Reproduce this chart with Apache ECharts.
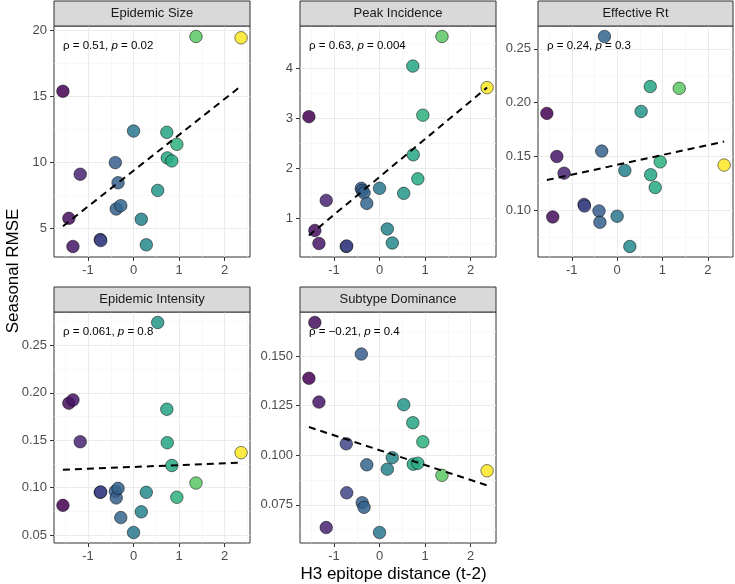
<!DOCTYPE html>
<html><head><meta charset="utf-8">
<script src="https://cdn.jsdelivr.net/npm/echarts@6/dist/echarts.min.js"></script>
<style>html,body{margin:0;padding:0;background:#fff}#c{width:735px;height:584px}</style>
</head><body><div id="c"></div>
<script>
// ---- data ----
const xDist = [-1.55,-1.42,-1.33,-1.17,-0.73,-0.72,-0.40,-0.38,-0.34,-0.28,0.00,0.17,0.28,0.53,0.73,0.74,0.84,0.95,1.37,2.36];
const epidemicSize = [15.39,5.74,3.60,9.09,4.13,4.05,9.97,6.45,8.44,6.70,12.37,5.67,3.73,7.86,12.27,10.33,10.10,11.36,19.55,19.45];
const peakIncidence = [3.03,0.76,0.50,1.36,0.44,0.45,1.60,1.56,1.51,1.30,1.60,0.79,0.51,1.50,4.04,2.27,1.79,3.06,4.63,3.61];
const effectiveRt = [0.190,0.0938,0.150,0.1345,0.1055,0.104,0.0994,0.0889,0.155,0.2614,0.0945,0.137,0.0664,0.1918,0.2149,0.133,0.1212,0.145,0.2133,0.142];
const epidemicIntensity = [0.0814,0.189,0.1924,0.1484,0.0951,0.0955,0.0962,0.0892,0.0993,0.0685,0.0528,0.0746,0.0951,0.274,0.1826,0.1474,0.1234,0.0899,0.1049,0.1369];
const subtypeDominance = [0.1388,0.1669,0.1268,0.0636,0.1058,0.0811,0.151,0.0761,0.0738,0.0952,0.0611,0.093,0.0988,0.1255,0.1164,0.0955,0.096,0.1068,0.0899,0.0922];

const panelTitles = ['Epidemic Size','Peak Incidence','Effective Rt','Epidemic Intensity','Subtype Dominance'];
const rhoLabels = ['0.51','0.63','0.24','0.061','\u22120.21'];
const pLabels = ['0.02','0.004','0.3','0.8','0.4'];
const xTicks = [-1,0,1,2];
const xMinor = [-1.5,-0.5,0.5,1.5,2.5];
const yTicks = [[5,10,15,20],[1,2,3,4],[0.10,0.15,0.20,0.25],[0.05,0.10,0.15,0.20,0.25],[0.075,0.100,0.125,0.150]];
const yMinor = [[7.5,12.5,17.5],[0.5,1.5,2.5,3.5,4.5],[0.075,0.125,0.175,0.225],[0.075,0.125,0.175,0.225,0.275],[0.0625,0.0875,0.1125,0.1375,0.1625]];
const yDecimals = [0,0,2,2,3];
const xTitle = 'H3 epitope distance (t-2)';
const yTitle = 'Seasonal RMSE';
const seriesY = [epidemicSize, peakIncidence, effectiveRt, epidemicIntensity, subtypeDominance];

// ---- layout ----
const FONT = 'Liberation Sans, Arial, Helvetica, sans-serif';
const boxes = [
  {left:54, top:26, width:196, height:231},
  {left:300, top:26, width:196, height:231},
  {left:538, top:26, width:195, height:231},
  {left:54, top:312, width:196, height:231},
  {left:300, top:312, width:196, height:231}
];
const stripH = 25;
const viridis = ['#440154','#472D7B','#3B528B','#2C728E','#21908C','#27AD81','#5DC863','#AADC32','#FDE725'];

function expand(arr){
  const mn = Math.min(...arr), mx = Math.max(...arr), r = mx - mn;
  return [mn - 0.05*r, mx + 0.05*r];
}
function lm(xs, ys){
  const n = xs.length;
  const mx = xs.reduce((a,b)=>a+b,0)/n, my = ys.reduce((a,b)=>a+b,0)/n;
  let sxy=0, sxx=0;
  for(let i=0;i<n;i++){ sxy += (xs[i]-mx)*(ys[i]-my); sxx += (xs[i]-mx)**2; }
  const b = sxy/sxx; return [my - b*mx, b];
}
const [xMin, xMax] = expand(xDist);
const xLo = Math.min(...xDist), xHi = Math.max(...xDist);

const grid=[], xAxis=[], yAxis=[], series=[], graphic=[];
boxes.forEach((b,i)=>{
  grid.push({left:b.left, top:b.top, width:b.width, height:b.height, show:true,
    borderColor:'#333333', borderWidth:1, backgroundColor:'#fff', containLabel:false, outerBoundsMode:'none'});
  const [yMin, yMax] = expand(seriesY[i]);
  // major axes
  xAxis.push({type:'value', gridIndex:i, min:xMin, max:xMax, position:'bottom',
    axisLine:{show:false, onZero:false},
    axisTick:{show:true, length:4, customValues:xTicks, lineStyle:{color:'#333333', width:1}},
    axisLabel:{customValues:xTicks, color:'#4D4D4D', fontSize:13, margin:7, fontFamily:FONT},
    splitLine:{show:true, lineStyle:{color:'#EBEBEB', width:1}}});
  xAxis.push({type:'value', gridIndex:i, min:xMin, max:xMax, position:'top',
    axisLine:{show:false, onZero:false}, axisTick:{show:false, customValues:xMinor},
    axisLabel:{show:false, customValues:xMinor},
    splitLine:{show:true, lineStyle:{color:'#F4F4F4', width:0.6}}});
  const dec = yDecimals[i];
  yAxis.push({type:'value', gridIndex:i, min:yMin, max:yMax, position:'left',
    axisLine:{show:false, onZero:false},
    axisTick:{show:true, length:4, customValues:yTicks[i], lineStyle:{color:'#333333', width:1}},
    axisLabel:{customValues:yTicks[i], color:'#4D4D4D', fontSize:13, margin:7, fontFamily:FONT,
      formatter:v=>Number(v).toFixed(dec)},
    splitLine:{show:true, lineStyle:{color:'#EBEBEB', width:1}}});
  yAxis.push({type:'value', gridIndex:i, min:yMin, max:yMax, position:'right',
    axisLine:{show:false, onZero:false}, axisTick:{show:false, customValues:yMinor[i]},
    axisLabel:{show:false, customValues:yMinor[i]},
    splitLine:{show:true, lineStyle:{color:'#F4F4F4', width:0.6}}});

  series.push({type:'scatter', name:panelTitles[i], xAxisIndex:2*i, yAxisIndex:2*i,
    data: xDist.map((x,j)=>[x, seriesY[i][j]]), symbolSize:12.5, z:3,
    itemStyle:{opacity:0.85, borderColor:'rgba(0,0,0,0.85)', borderWidth:0.7}});
  const [a, s] = lm(xDist, seriesY[i]);
  series.push({type:'line', xAxisIndex:2*i, yAxisIndex:2*i, silent:true, z:4,
    data:[[xLo, a + s*xLo],[xHi, a + s*xHi]], symbol:'none', showSymbol:false,
    lineStyle:{color:'#000', width:2, type:[7,5]}});

  // strip
  graphic.push({type:'rect', shape:{x:b.left, y:b.top - stripH, width:b.width, height:stripH},
    style:{fill:'#D9D9D9', stroke:'#333333', lineWidth:1}, z:10});
  graphic.push({type:'text', x:b.left + b.width/2, y:b.top - stripH/2, z:11,
    style:{text:panelTitles[i], fill:'#1A1A1A', fontSize:13, fontFamily:FONT,
      align:'center', verticalAlign:'middle', textAlign:'center', textVerticalAlign:'middle'}});
  // correlation annotation
  graphic.push({type:'text', x:b.left + 9, y:b.top + 20, z:11,
    style:{text:'{n|\u03C1 = ' + rhoLabels[i] + ', }{i|p}{n| = ' + pLabels[i] + '}',
      align:'left', verticalAlign:'middle', textAlign:'left', textVerticalAlign:'middle',
      rich:{n:{fontSize:11.5, fill:'#000', fontFamily:FONT}, i:{fontSize:11.5, fill:'#000', fontFamily:FONT, fontStyle:'italic'}}}});
});

graphic.push({type:'text', x:13, y:271, rotation:Math.PI/2, z:11,
  style:{text:yTitle, fill:'#000', fontSize:17, fontFamily:FONT, align:'center', verticalAlign:'middle', textAlign:'center', textVerticalAlign:'middle'}});
graphic.push({type:'text', x:(54+733)/2, y:574, z:11,
  style:{text:xTitle, fill:'#000', fontSize:17, fontFamily:FONT, align:'center', verticalAlign:'middle', textAlign:'center', textVerticalAlign:'middle'}});

const chart = echarts.init(document.getElementById('c'), null, {renderer:'canvas'});
chart.setOption({
  animation:false,
  backgroundColor:'#fff',
  grid, xAxis, yAxis, series, graphic,
  visualMap:{type:'continuous', show:false, dimension:0, min:xLo, max:xHi,
    seriesIndex:[0,2,4,6,8], inRange:{color:viridis}}
});
</script></body></html>
